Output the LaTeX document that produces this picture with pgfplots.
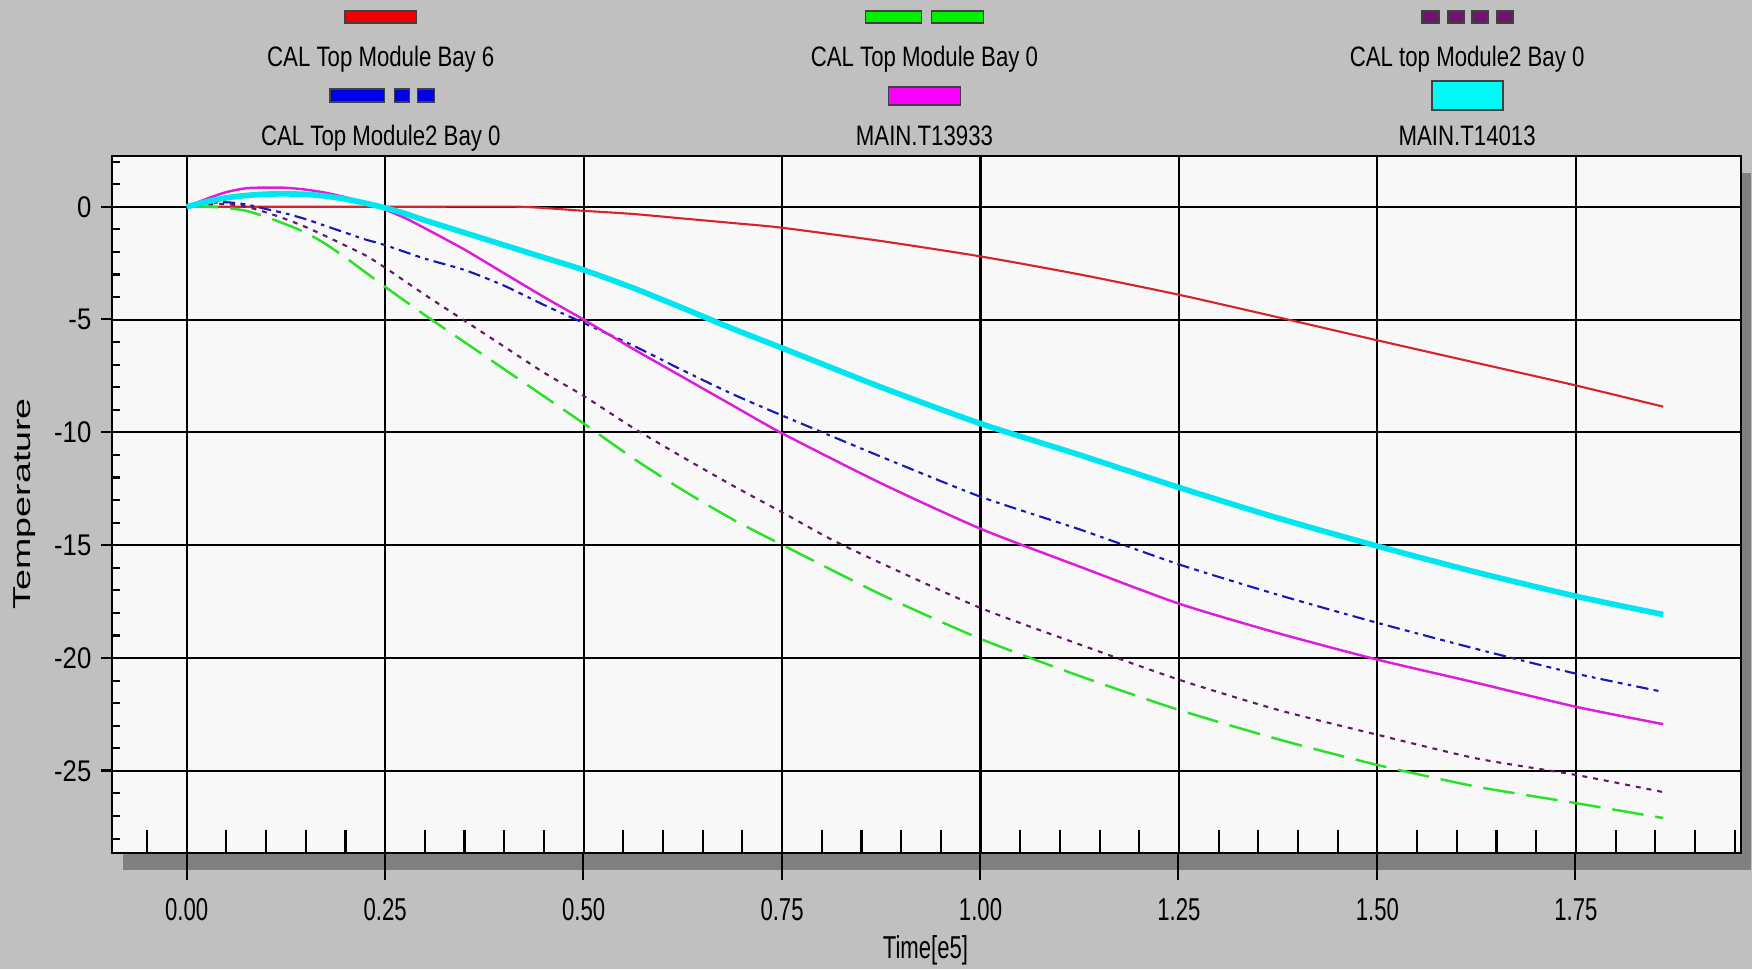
\documentclass[border=0pt]{standalone}
\usepackage{fontspec}
\setmainfont{Liberation Sans}
\newfontfamily\legfont[FakeStretch=0.79]{Liberation Sans}
\newfontfamily\xfont[FakeStretch=0.7]{Liberation Sans}
\newfontfamily\yfont[FakeStretch=0.86]{Liberation Sans}
\usepackage{pgfplots}
\pgfplotsset{compat=1.18}
\usepackage{pgfplotstable}

\definecolor{pagebg}{RGB}{192,192,192}
\definecolor{plotbg}{RGB}{248,248,248}
\definecolor{shadowc}{RGB}{128,128,128}
\definecolor{cred}{RGB}{215,35,45}
\definecolor{cgreen}{RGB}{40,225,40}
\definecolor{cpurple}{RGB}{100,25,100}
\definecolor{cblue}{RGB}{25,25,175}
\definecolor{cmag}{RGB}{220,30,220}
\definecolor{ccyan}{RGB}{0,230,240}
\definecolor{sred}{RGB}{240,0,0}
\definecolor{sgreen}{RGB}{0,240,0}
\definecolor{spurple}{RGB}{112,20,112}
\definecolor{sblue}{RGB}{0,0,230}
\definecolor{smag}{RGB}{250,0,250}
\definecolor{scyan}{RGB}{0,250,250}

\pgfplotstableread{
x y
0 0
0.1 0
0.2 0
0.3 0
0.42 0
0.5 -0.18
0.5625 -0.32
0.625 -0.52
0.6875 -0.72
0.75 -0.93
0.875 -1.52
1.0 -2.2
1.125 -3.0
1.25 -3.9
1.375 -4.9
1.5 -5.92
1.625 -6.92
1.75 -7.92
1.86 -8.86
}\redtab

\pgfplotstableread{
x y
0 0
0.025 0.0
0.05 -0.05
0.075 -0.18
0.1 -0.45
0.125 -0.78
0.15 -1.15
0.175 -1.65
0.2 -2.25
0.225 -2.9
0.25 -3.55
0.3 -4.8
0.35 -6.0
0.4 -7.2
0.45 -8.4
0.5 -9.6
0.5625 -11.15
0.625 -12.56
0.6875 -13.85
0.75 -14.98
0.875 -17.19
1.0 -19.15
1.125 -20.8
1.25 -22.3
1.375 -23.6
1.5 -24.74
1.625 -25.7
1.75 -26.43
1.86 -27.09
}\greentab

\pgfplotstableread{
x y
0 0
0.025 0.1
0.05 0.12
0.075 0.0
0.1 -0.25
0.125 -0.55
0.15 -0.9
0.175 -1.3
0.2 -1.72
0.225 -2.15
0.25 -2.7
0.3 -3.9
0.35 -5.05
0.4 -6.2
0.45 -7.35
0.5 -8.38
0.5625 -9.8
0.625 -11.1
0.6875 -12.35
0.75 -13.54
0.8125 -14.75
0.875 -15.8
1.0 -17.78
1.125 -19.4
1.25 -20.96
1.375 -22.3
1.5 -23.4
1.625 -24.45
1.75 -25.18
1.86 -25.94
}\purpletab

\pgfplotstableread{
x y
0 0
0.025 0.15
0.05 0.2
0.075 0.1
0.1 -0.1
0.125 -0.3
0.15 -0.55
0.175 -0.85
0.2 -1.15
0.225 -1.45
0.25 -1.7
0.3 -2.3
0.35 -2.8
0.4 -3.5
0.45 -4.35
0.5 -5.15
0.5625 -6.15
0.625 -7.25
0.6875 -8.3
0.75 -9.25
0.875 -11.08
1.0 -12.85
1.125 -14.3
1.25 -15.85
1.375 -17.2
1.5 -18.44
1.625 -19.6
1.75 -20.69
1.86 -21.5
}\bluetab

\pgfplotstableread{
x y
0 0
0.025 0.35
0.05 0.65
0.075 0.82
0.1 0.85
0.125 0.84
0.15 0.76
0.175 0.62
0.2 0.42
0.225 0.17
0.25 -0.13
0.275 -0.5
0.3 -0.95
0.35 -1.9
0.4 -2.95
0.45 -4.0
0.5 -5.0
0.5625 -6.3
0.625 -7.55
0.6875 -8.8
0.75 -10.04
0.875 -12.26
1.0 -14.27
1.125 -15.95
1.25 -17.59
1.375 -18.9
1.5 -20.07
1.625 -21.1
1.75 -22.16
1.86 -22.93
}\magtab

\pgfplotstableread{
x y
0 0
0.025 0.22
0.05 0.4
0.075 0.5
0.1 0.56
0.125 0.57
0.15 0.55
0.175 0.47
0.2 0.34
0.225 0.16
0.25 -0.05
0.275 -0.3
0.3 -0.6
0.35 -1.15
0.4 -1.7
0.45 -2.25
0.5 -2.8
0.5625 -3.6
0.625 -4.49
0.6875 -5.4
0.75 -6.26
0.875 -8.0
1.0 -9.61
1.125 -11.0
1.25 -12.44
1.375 -13.8
1.5 -15.04
1.625 -16.2
1.75 -17.26
1.86 -18.07
}\cyantab

\begin{document}
\begin{tikzpicture}
\fill[pagebg] (0,0) rectangle (17.52,9.69);
\useasboundingbox (0,0) rectangle (17.52,9.69);
\begin{scope}[x=0.01cm,y=-0.01cm,yshift=9.69cm]
  \fill[shadowc] (123,173) rectangle (1752,870);
\end{scope}
\begin{axis}[
  at={(1.12cm,1.16cm)}, anchor=south west,
  width=16.29cm, height=6.97cm, scale only axis,
  xmin=-0.0941, xmax=1.958, ymin=-28.64, ymax=2.25,
  axis background/.style={fill=plotbg},
  axis line style={black, line width=0.8pt},
  xtick={0,0.25,0.5,0.75,1,1.25,1.5,1.75},
  xticklabels={0.00,0.25,0.50,0.75,1.00,1.25,1.50,1.75},
  ytick={-25,-20,-15,-10,-5,0},
  yticklabels={-25,-20,-15,-10,-5,0},
  grid=major,
  major grid style={black, line width=0.6pt},
  major tick length=0pt,
  xticklabel style={font=\xfont\fontsize{9}{10}\selectfont, anchor=center, inner sep=0pt, yshift=-0.57cm},
  yticklabel style={font=\yfont\fontsize{8.5}{10}\selectfont, anchor=east, inner sep=0pt, xshift=-0.2cm},
  clip=false,
  every axis plot/.append style={smooth, tension=0.4},
]
\addplot[cred, line width=0.6pt] table[x=x,y=y] {\redtab};
\addplot[cgreen, line width=0.7pt, dash pattern=on 9pt off 3.4pt] table[x=x,y=y] {\greentab};
\addplot[cpurple, line width=0.6pt, dash pattern=on 1.4pt off 1.7pt] table[x=x,y=y] {\purpletab};
\addplot[cblue, line width=0.6pt, dash pattern=on 3.5pt off 1.5pt on 1.4pt off 1.5pt on 1pt off 1.5pt] table[x=x,y=y] {\bluetab};
\addplot[cmag, line width=0.7pt] table[x=x,y=y] {\magtab};
\addplot[ccyan, line width=1.6pt] table[x=x,y=y] {\cyantab};
% minor ticks inside
\pgfplotsinvokeforeach{-0.05,0.05,0.1,0.15,0.2,0.3,0.35,0.4,0.45,0.55,0.6,0.65,0.7,0.8,0.85,0.9,0.95,1.05,1.1,1.15,1.2,1.3,1.35,1.4,1.45,1.55,1.6,1.65,1.7,1.8,1.85,1.9,1.95}{
  \draw[black, line width=0.6pt] (axis cs:#1,-28.64) -- ([yshift=0.23cm]axis cs:#1,-28.64);
}
\pgfplotsinvokeforeach{-28,-27,-26,-24,-23,-22,-21,-19,-18,-17,-16,-14,-13,-12,-11,-9,-8,-7,-6,-4,-3,-2,-1,1,2}{
  \draw[black, line width=0.6pt] (axis cs:-0.0941,#1) -- ([xshift=0.08cm]axis cs:-0.0941,#1);
}
\end{axis}
\begin{scope}[x=0.01cm,y=-0.01cm,yshift=9.69cm]
  % outside major ticks
  \foreach \xx in {186.7,385.1,583.6,782.1,980.5,1179.0,1377.4,1575.9}
    \draw[black, line width=0.6pt] (\xx,853) -- (\xx,881);
  \foreach \yy in {206.8,319.6,432.4,545.3,658.1,770.9}
    \draw[black, line width=0.6pt] (101,\yy) -- (112,\yy);
  % legend swatches
  \tikzset{sw/.style={draw=black!75, line width=0.4pt}}
  \filldraw[sw, fill=sred] (345,11) rectangle (417,23);
  \filldraw[sw, fill=sgreen] (866,11) rectangle (922,23);
  \filldraw[sw, fill=sgreen] (932,11) rectangle (984,23);
  \filldraw[sw, fill=spurple] (1423,11) rectangle (1440,23);
  \filldraw[sw, fill=spurple] (1449,11) rectangle (1465,23);
  \filldraw[sw, fill=spurple] (1473,11) rectangle (1489,23);
  \filldraw[sw, fill=spurple] (1498,11) rectangle (1514,23);
  \filldraw[sw, fill=sblue] (330,89) rectangle (385,102);
  \filldraw[sw, fill=sblue] (395,89) rectangle (410,102);
  \filldraw[sw, fill=sblue] (418,89) rectangle (435,102);
  \filldraw[sw, fill=smag] (889,87) rectangle (961,105);
  \filldraw[sw, fill=scyan] (1433,81) rectangle (1504,110);
  % legend texts
  \tikzset{lt/.style={anchor=base, inner sep=0pt, font=\legfont\fontsize{8}{9}\selectfont}}
  \node[lt] at (381,67) {CAL Top Module Bay 6};
  \node[lt] at (925,67) {CAL Top Module Bay 0};
  \node[lt] at (1468,67) {CAL top Module2 Bay 0};
  \node[lt] at (381,146) {CAL Top Module2 Bay 0};
  \node[lt] at (925,146) {MAIN.T13933};
  \node[lt] at (1468,146) {MAIN.T14013};
  % axis titles
  \node[font=\xfont\fontsize{9}{10}\selectfont, inner sep=0pt] at (926,951) {Time[e5]};
  \node[inner sep=0pt] at (25,504) {\rotatebox{90}{\scalebox{1}[0.65]{\fontsize{10.7}{12}\selectfont Temperature}}};
\end{scope}
\end{tikzpicture}
\end{document}
